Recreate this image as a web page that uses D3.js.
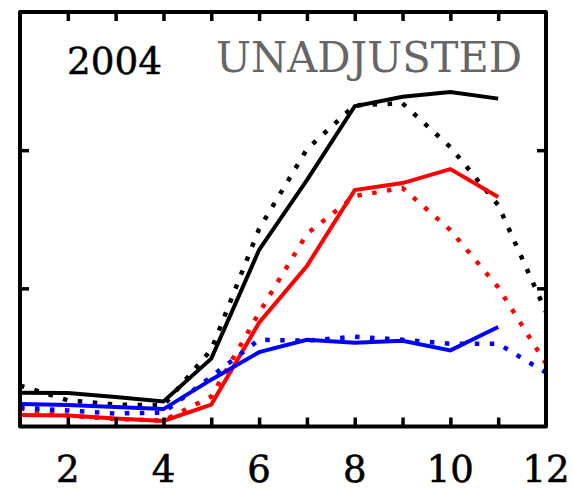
<!DOCTYPE html>
<html><head><meta charset="utf-8">
<script src="https://cdn.jsdelivr.net/npm/d3@7"></script>
<style>body{margin:0;background:#fff}svg{display:block}</style>
</head><body>
<script>
const months = [1,2,3,4,5,6,7,8,9,10,11,12];
const xTickLabels = [2,4,6,8,10,12];
const yTicks = [1,2];
const blackSolid = [0.245,0.242,0.213,0.181,0.491,1.278,1.783,2.318,2.386,2.421,2.373];
const blackDotted = [0.296,0.190,0.159,0.152,0.556,1.430,2.007,2.325,2.339,2.022,1.603,0.830];
const redSolid = [0.083,0.079,0.058,0.040,0.159,0.751,1.162,1.711,1.762,1.863,1.661];
const redDotted = [0.130,0.079,0.054,0.043,0.217,0.823,1.394,1.668,1.726,1.422,1.007,0.455];
const blueSolid = [0.162,0.155,0.141,0.126,0.339,0.538,0.628,0.606,0.621,0.551,0.720];
const blueDotted = [0.137,0.116,0.094,0.101,0.361,0.628,0.621,0.650,0.628,0.599,0.599,0.390];

const W = 573, H = 491;
const svg = d3.select("body").append("svg").attr("width", W).attr("height", H);
const x = d3.scaleLinear().domain([1,12]).range([20,546]);
const y = d3.scaleLinear().domain([0,3]).range([426.5,12]);

const line = d3.line().x((d,i)=>x(months[i])).y(d=>y(d));
const series = [
  {v: blackDotted, c: "#000", dash: true},
  {v: blackSolid, c: "#000", dash: false},
  {v: redDotted, c: "#ff0000", dash: true},
  {v: redSolid, c: "#ff0000", dash: false},
  {v: blueDotted, c: "#0000ff", dash: true},
  {v: blueSolid, c: "#0000ff", dash: false}
];
svg.append("clipPath").attr("id","c").append("rect")
  .attr("x", x(1)).attr("y", y(3)).attr("width", x(12)-x(1)).attr("height", y(0)-y(3));
const g = svg.append("g").attr("clip-path","url(#c)");
series.forEach(s => {
  g.append("path").datum(s.v).attr("d", line)
    .attr("fill","none").attr("stroke", s.c)
    .attr("stroke-width", s.dash ? 4.5 : 4)
    .attr("stroke-dasharray", s.dash ? "4.5,10.5" : null)
    .attr("stroke-linejoin","miter");
});

// axes (frame with inward ticks)
const tickLen = 9;
const axB = d3.axisBottom(x).tickValues(d3.range(2,12)).tickSize(-tickLen).tickFormat("");
const axT = d3.axisTop(x).tickValues(d3.range(2,12)).tickSize(-tickLen).tickFormat("");
const axL = d3.axisLeft(y).tickValues(yTicks).tickSize(-tickLen).tickFormat("");
const axR = d3.axisRight(y).tickValues(yTicks).tickSize(-tickLen).tickFormat("");
[[axB,`translate(0,${y(0)})`],[axT,`translate(0,${y(3)})`],[axL,`translate(${x(1)},0)`],[axR,`translate(${x(12)},0)`]].forEach(([a,t])=>{
  const ga = svg.append("g").attr("transform", t).call(a);
  ga.select(".domain").remove();
  ga.selectAll(".tick line").attr("stroke","#000").attr("stroke-width",3.5);
});
svg.append("rect").attr("x", x(1)).attr("y", y(3)).attr("width", x(12)-x(1)).attr("height", y(0)-y(3))
  .attr("fill","none").attr("stroke","#000").attr("stroke-width",4).attr("stroke-linejoin","round");

// tick labels
svg.append("g").selectAll("text").data(xTickLabels).join("text")
  .attr("x", d=>x(d)).attr("y", 482).attr("text-anchor","middle")
  .attr("font-family","DejaVu Serif").attr("font-size",37).attr("fill","#000")
  .attr("stroke","#000").attr("stroke-width",0.6)
  .text(d=>d);

svg.append("text").attr("x",67).attr("y",74)
  .attr("font-family","DejaVu Serif").attr("font-size",37).attr("fill","#000")
  .attr("stroke","#000").attr("stroke-width",0.5)
  .attr("textLength",95).attr("lengthAdjust","spacingAndGlyphs").text("2004");
svg.append("text").attr("x",216).attr("y",72)
  .attr("font-family","DejaVu Serif").attr("font-size",42).attr("fill","#666666")
  .attr("textLength",306).attr("lengthAdjust","spacingAndGlyphs").text("UNADJUSTED");
</script>
</body></html>
